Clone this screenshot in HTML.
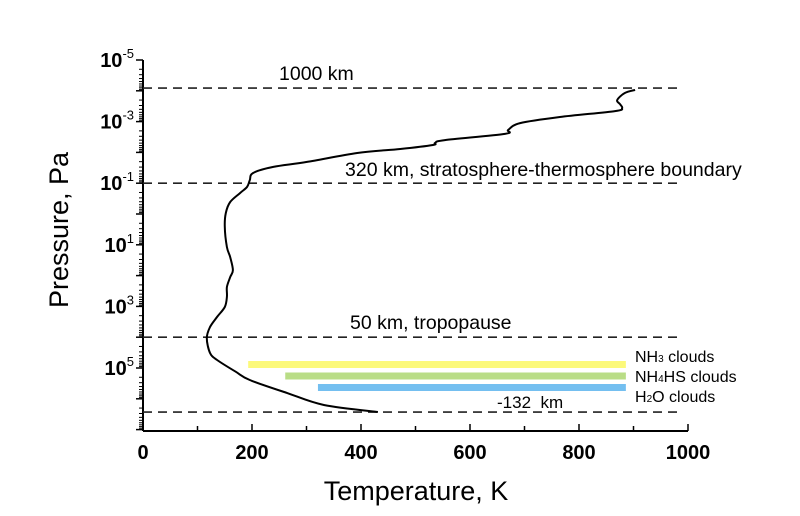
<!DOCTYPE html>
<html><head><meta charset="utf-8"><style>
html,body{margin:0;padding:0;background:#fff;}
svg{display:block;font-family:"Liberation Sans",Arial,sans-serif;}
</style></head><body>
<svg id="chart" width="800" height="516" viewBox="0 0 800 516">
<g id="grid"></g>
</svg>
<script>
// Data arrays
const tempK = [431,332,264,196,170,136,123,117,123,136,150,154,154,160,165,160,154,150,152,160,178,191,196,202,239,301,393,472,532,536,554,664,670,692,765,866,879,875,870,884,903];
const logP  = [6.43,6.20,5.81,5.39,5.12,4.74,4.51,4.03,3.67,3.34,3.02,2.69,2.37,2.05,1.82,1.40,1.07,0.42,-0.03,-0.39,-0.68,-0.88,-1.10,-1.33,-1.53,-1.69,-1.98,-2.11,-2.24,-2.31,-2.40,-2.60,-2.73,-2.95,-3.15,-3.34,-3.44,-3.57,-3.70,-3.93,-4.03];
const xTicks = [0,200,400,600,800,1000];
const yTickExps = [-5,-3,-1,1,3,5];
const boundaryLogP = [-4.09,-1,4.0,6.43];
const boundaryLabels = ["1000 km","320 km, stratosphere-thermosphere boundary","50 km, tropopause","-132\u00a0\u00a0km"];
const cloudNames = ["nh3","nh4hs","h2o"];
const cloudStart = [193,261,321];
const cloudEnd = [886,886,886];

const X0=143, KX=0.545, Y0=60, KY=30.8;
const xs = t => X0 + t*KX;
const ys = l => Y0 + (l+5)*KY;
const svg = document.getElementById('chart');
const NS='http://www.w3.org/2000/svg';
function mk(tag, attrs, parent){const e=document.createElementNS(NS,tag);for(const k in attrs)e.setAttribute(k,attrs[k]);(parent||svg).appendChild(e);return e;}

// axes
let ax = mk('line',{x1:X0,y1:431,x2:xs(1000),y2:431,stroke:'#000','stroke-width':2});


let ay = mk('line',{x1:X0,y1:Y0,x2:X0,y2:431,stroke:'#000','stroke-width':2});



// x ticks
for(let t=0;t<=1000;t+=100){
  const maj = t%200===0;
  const l = mk('line',{x1:xs(t),y1:431,x2:xs(t),y2:431-(maj?7:5),stroke:'#000','stroke-width':1.5});
  
  
}
xTicks.forEach(t=>{
  const tx = mk('text',{x:xs(t),y:459,'text-anchor':'middle','font-size':20,'font-weight':'bold'});
  tx.textContent = t;
  
  
});
// y ticks
for(let e=-5;e<=7;e++){
  const yy = ys(e);
  if(yy<=432){
    const l = mk('line',{x1:X0,y1:yy,x2:X0-7,y2:yy,stroke:'#000','stroke-width':1.5});
    
    
  }
  for(let m=2;m<=9;m++){
    const ym = ys(e+Math.log10(m));
    if(ym>431||ym<Y0) continue;
    const l = mk('line',{x1:X0,y1:ym,x2:X0-4,y2:ym,stroke:'#000','stroke-width':1});
    
    
  }
}
yTickExps.forEach(e=>{
  const tx = mk('text',{x:X0-9,y:ys(e)+7,'text-anchor':'end','font-size':20,'font-weight':'bold'});
  tx.innerHTML = '10<tspan dy="-9" font-size="13" font-weight="normal">'+e+'</tspan>';
  
  
});

// cloud bars
const cloudColors=['#fcf97a','#b9dd86','#74bff0'];
cloudNames.forEach((n,i)=>{
  const y = 361+i*11.5;
  const r = mk('rect',{x:xs(cloudStart[i]),y:y,width:xs(cloudEnd[i])-xs(cloudStart[i]),height:7,fill:cloudColors[i]});
  
  
});
const cloudLabelHtml=['NH<tspan font-size="10">3</tspan> clouds','NH<tspan font-size="10">4</tspan>HS clouds','H<tspan font-size="10">2</tspan>O clouds'];
cloudNames.forEach((n,i)=>{
  const t = mk('text',{x:635,y:362+i*20,'font-size':16});
  t.innerHTML = cloudLabelHtml[i];
  
  
});

// boundary dashed lines
boundaryLogP.forEach((l,i)=>{
  const ln = mk('line',{x1:X0,y1:ys(l),x2:682,y2:ys(l),stroke:'#222','stroke-width':1.6,'stroke-dasharray':'9,6'});
  
  
});
const labPos=[[279,80,19.5],[345,176,19.5],[350,329,19.5],[497,408,17]];
boundaryLabels.forEach((s,i)=>{
  const t = mk('text',{x:labPos[i][0],y:labPos[i][1],'font-size':labPos[i][2]});
  t.textContent = s;
  
  
});

// profile (smoothed Catmull-Rom)
const pts = tempK.map((t,i)=>[xs(t), ys(logP[i])]);
let d = 'M'+pts[0][0].toFixed(1)+','+pts[0][1].toFixed(1);
for(let i=0;i<pts.length-1;i++){
  const p0=pts[Math.max(0,i-1)], p1=pts[i], p2=pts[i+1], p3=pts[Math.min(pts.length-1,i+2)];
  const c1=[p1[0]+(p2[0]-p0[0])/6, p1[1]+(p2[1]-p0[1])/6];
  const c2=[p2[0]-(p3[0]-p1[0])/6, p2[1]-(p3[1]-p1[1])/6];
  d += ' C'+c1[0].toFixed(1)+','+c1[1].toFixed(1)+' '+c2[0].toFixed(1)+','+c2[1].toFixed(1)+' '+p2[0].toFixed(1)+','+p2[1].toFixed(1);
}
const p = mk('path',{d:d,fill:'none',stroke:'#000','stroke-width':2,'stroke-linejoin':'round'});



// axis titles
const xt = mk('text',{x:416,y:500,'text-anchor':'middle','font-size':27});
xt.textContent='Temperature, K';


const yt = mk('text',{x:0,y:0,'text-anchor':'middle','font-size':27,transform:'translate(68,230) rotate(-90)'});
yt.textContent='Pressure, Pa';


</script>
</body></html>
